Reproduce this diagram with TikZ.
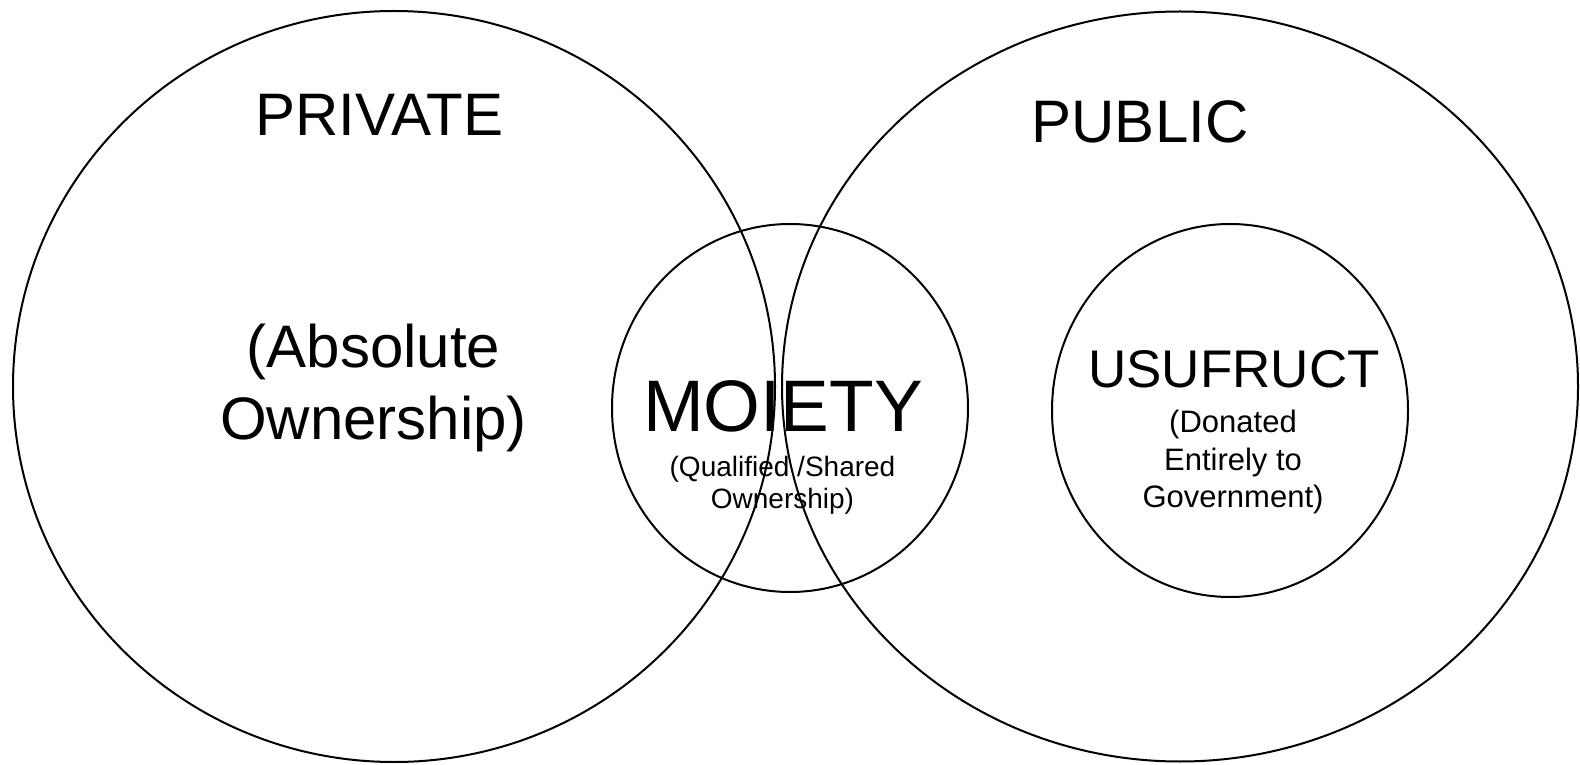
\documentclass[tikz,border=0pt]{standalone}
\usepackage{fontspec}
\setmainfont{Liberation Sans}
\tikzset{
  ring/.style={draw=black,line width=2pt},
  head/.style={font=\fontsize{60}{72}\selectfont,align=center,anchor=base,inner sep=0pt},
  mid/.style={font=\fontsize{73}{80}\selectfont,anchor=base,inner sep=0pt},
  usu/.style={font=\fontsize{53}{60}\selectfont,anchor=base,inner sep=0pt},
  small/.style={align=center,anchor=base,inner sep=0pt}
}
\begin{document}
\begin{tikzpicture}
  [x=1pt,y=1pt]
\useasboundingbox (0,0) rectangle (1580,764);
\draw[ring] (394,377.5) ellipse [x radius=381,y radius=375.5];
\draw[ring] (1180,377.5) ellipse [x radius=398,y radius=375];
\draw[ring] (790,356) ellipse [x radius=178,y radius=184];
\draw[ring] (1230,353.5) ellipse [x radius=178,y radius=186.5];
\node (priv)[head] at (379.5,628) {PRIVATE};
  \node (pub)[head] at (1140,621) {PUBLIC};
  \node (abs)[head] at (373.5,324) {(Absolute\\Ownership)};
  \node (moi)[mid] at (783,332) {MOIETY};
  \node (moisub)[small,font=\fontsize{28}{32}\selectfont] at (782.5,255) {(Qualified /Shared\\Ownership)};
  \node (usf)[usu] at (1234,376) {USUFRUCT};
  \node (usfsub)[small,font=\fontsize{31}{37.5}\selectfont] at (1233,256) {(Donated\\Entirely to\\Government)};
\end{tikzpicture}
\end{document}
